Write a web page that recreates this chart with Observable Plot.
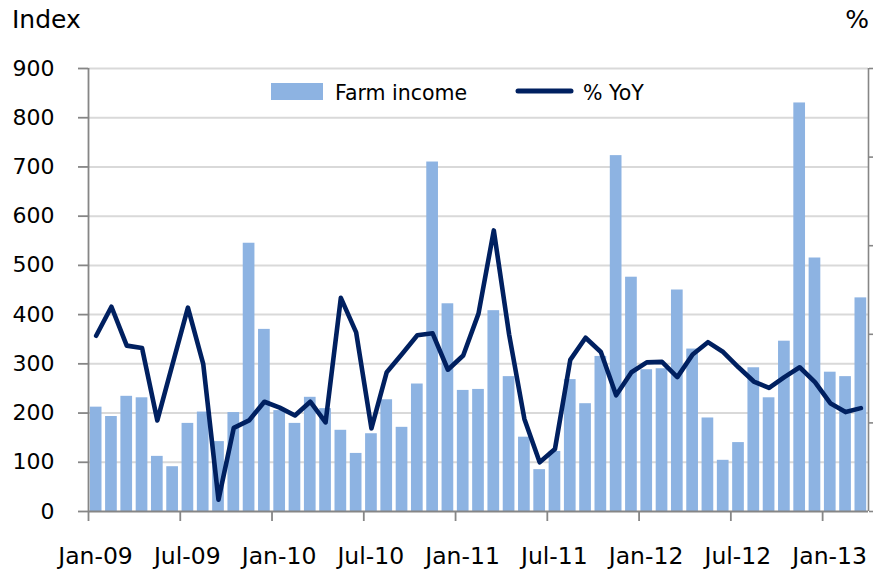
<!DOCTYPE html>
<html>
<head>
<meta charset="utf-8">
<script src="https://cdn.jsdelivr.net/npm/d3@7"></script>
<script src="https://cdn.jsdelivr.net/npm/@observablehq/plot@0.6"></script>
<style>
  html, body { margin: 0; padding: 0; background: #fff; }
  #wrap { position: relative; width: 873px; height: 573px; font-family: "DejaVu Sans", sans-serif; }
  #wrap svg.overlay { position: absolute; left: 0; top: 0; pointer-events: none; }
</style>
</head>
<body>
<div id="wrap"></div>
<script>
// ---- Data ----
const months = [
  "Jan-09","Feb-09","Mar-09","Apr-09","May-09","Jun-09","Jul-09","Aug-09","Sep-09","Oct-09","Nov-09","Dec-09",
  "Jan-10","Feb-10","Mar-10","Apr-10","May-10","Jun-10","Jul-10","Aug-10","Sep-10","Oct-10","Nov-10","Dec-10",
  "Jan-11","Feb-11","Mar-11","Apr-11","May-11","Jun-11","Jul-11","Aug-11","Sep-11","Oct-11","Nov-11","Dec-11",
  "Jan-12","Feb-12","Mar-12","Apr-12","May-12","Jun-12","Jul-12","Aug-12","Sep-12","Oct-12","Nov-12","Dec-12",
  "Jan-13","Feb-13","Mar-13"
];
// Farm income index (left axis)
const farmIncome = [
  212,193,234,231,112,91,179,202,142,201,545,370,
  205,179,232,209,165,118,158,227,171,259,710,422,
  246,248,408,274,151,85,122,268,219,315,723,476,
  288,290,450,330,190,104,140,292,231,346,830,515,
  283,274,434
];
// % YoY line, expressed in left-axis units (right-axis labels are cut off in the reference)
const yoy = [
  357,416,337,332,185,300,414,300,24,170,185,223,
  211,195,223,181,434,364,169,283,320,358,362,288,
  317,402,571,360,188,100,127,308,353,324,236,283,
  303,304,273,319,344,324,293,264,251,273,293,263,
  220,202,210
];
const xTickLabels = ["Jan-09","Jul-09","Jan-10","Jul-10","Jan-11","Jul-11","Jan-12","Jul-12","Jan-13"];
const leftTicks = [0,100,200,300,400,500,600,700,800,900];
const rightTickCount = 5; // equal intervals on the (unlabelled) right axis
const legendLabels = ["Farm income","% YoY"];
const titles = {left: "Index", right: "%"};

// ---- Build ----
const barColor = "#8db3e2";
const lineColor = "#002060";
const axisColor = "#868686";
const gridColor = "#d9d9d9";

const data = months.map((m, i) => ({i, month: m, income: farmIncome[i], yoy: yoy[i]}));
const xTickValues = xTickLabels.map(l => months.indexOf(l));
const rightTicks = d3.range(rightTickCount + 1).map(k => 900 * k / rightTickCount);

const chart = Plot.plot({
  width: 873,
  height: 573,
  marginLeft: 88,
  marginRight: 5,
  marginTop: 68,
  marginBottom: 62,
  style: {fontFamily: "DejaVu Sans, sans-serif", background: "white", color: "black", overflow: "visible"},
  x: {domain: [0, months.length], axis: null},
  y: {domain: [0, 900], axis: null},
  marks: [
    Plot.ruleY(leftTicks.filter(v => v > 0), {stroke: gridColor, strokeWidth: 2}),
    Plot.rectY(data, {x1: "i", x2: d => d.i + 1, y: "income", fill: barColor, insetLeft: 1.8, insetRight: 1.8}),
    Plot.line(data, {x: d => d.i + 0.5, y: "yoy", stroke: lineColor, strokeWidth: 4.6, strokeLinejoin: "round", strokeLinecap: "round"}),
    Plot.ruleX([0], {stroke: axisColor, strokeWidth: 1.8}),
    Plot.ruleX([months.length], {stroke: axisColor, strokeWidth: 1.6}),
    Plot.ruleY([0], {stroke: axisColor, strokeWidth: 1.8}),
    Plot.axisY(leftTicks, {anchor: "left", tickSize: 10, tickPadding: 24, fontSize: 22, stroke: axisColor, strokeWidth: 1.8, fill: "black", label: null}),
    Plot.axisY(rightTicks, {anchor: "right", tickSize: 8, tickPadding: 4, tickFormat: () => "", stroke: axisColor, strokeWidth: 1.6, label: null}),
    // tick marks at the period boundaries
    Plot.axisX(xTickValues, {anchor: "bottom", tickSize: 10, tickFormat: () => "", stroke: axisColor, strokeWidth: 1.8, label: null}),
    // labels, nudged slightly right of the tick as in the reference
    Plot.axisX(xTickValues, {anchor: "bottom", tickSize: 0, tickPadding: 36, fontSize: 23.5, dx: 7,
      tickFormat: (d) => months[d], fill: "black", label: null})
  ]
});

const wrap = document.getElementById("wrap");
wrap.appendChild(chart);

// Titles and legend overlay
const ns = "http://www.w3.org/2000/svg";
const ov = document.createElementNS(ns, "svg");
ov.setAttribute("class", "overlay");
ov.setAttribute("width", 873);
ov.setAttribute("height", 573);
function el(tag, attrs, text) {
  const e = document.createElementNS(ns, tag);
  for (const k in attrs) e.setAttribute(k, attrs[k]);
  if (text != null) e.textContent = text;
  ov.appendChild(e);
  return e;
}
el("text", {x: 12, y: 28, "font-size": 25, "font-family": "DejaVu Sans", fill: "black"}, titles.left);
el("text", {x: 869, y: 28, "font-size": 25, "font-family": "DejaVu Sans", fill: "black", "text-anchor": "end"}, titles.right);
el("rect", {x: 271, y: 83, width: 52, height: 17, fill: barColor});
el("text", {x: 335, y: 100, "font-size": 20.5, "font-family": "DejaVu Sans", fill: "black"}, legendLabels[0]);
el("line", {x1: 518, x2: 571, y1: 91, y2: 91, stroke: lineColor, "stroke-width": 5, "stroke-linecap": "round"});
el("text", {x: 583, y: 100, "font-size": 20.5, "font-family": "DejaVu Sans", fill: "black"}, legendLabels[1]);
wrap.appendChild(ov);
</script>
</body>
</html>
